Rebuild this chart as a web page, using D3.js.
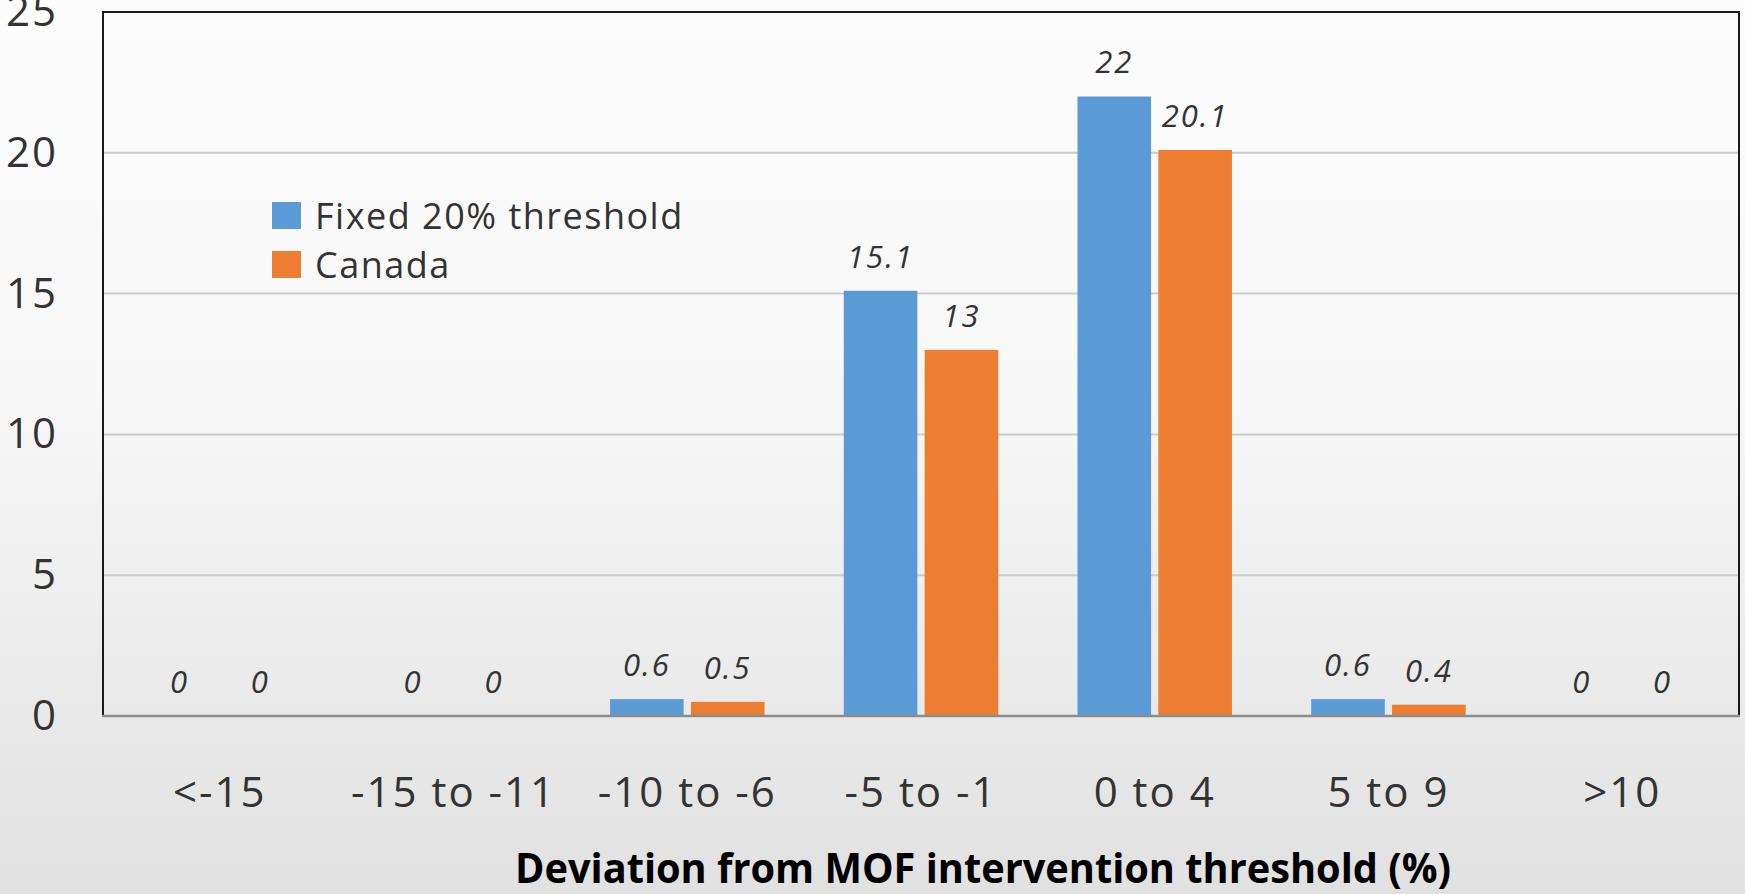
<!DOCTYPE html>
<html>
<head>
<meta charset="utf-8">
<script src="https://cdn.jsdelivr.net/npm/d3@7"></script>
<style>
    html, body { margin: 0; padding: 0; overflow: hidden; }
    svg { display: block; }
</style>
</head>
<body>
<svg id="chart"></svg>
<script>
// Chart data
const categories = ['<-15', '-15 to -11', '-10 to -6', '-5 to -1', '0 to 4', '5 to 9', '>10']
const seriesNames = ['Fixed 20% threshold', 'Canada']
const fixedValues = [0, 0, 0.6, 15.1, 22, 0.6, 0]
const canadaValues = [0, 0, 0.5, 13, 20.1, 0.4, 0]
const yTicks = [0, 5, 10, 15, 20, 25]
const xTitle = 'Deviation from MOF intervention threshold (%)'

const colors = ['#5b9bd5', '#ed7d31']
const W = 1745, H = 894
const plot = { left: 103, right: 1739, top: 12, bottom: 716 }

let svg = d3.select('#chart').attr('width', W).attr('height', H)

// background gradient
let defs = svg.append('defs')
let grad = defs.append('linearGradient')
    .attr('id', 'bg')
    .attr('x1', 0).attr('y1', 0).attr('x2', 0).attr('y2', 1)
grad.append('stop').attr('offset', '0%').attr('stop-color', '#fcfcfc')
grad.append('stop').attr('offset', '45%').attr('stop-color', '#f7f7f7')
grad.append('stop').attr('offset', '100%').attr('stop-color', '#e1e1e1')

svg.append('rect')
    .attr('width', W).attr('height', H)
    .attr('fill', 'url(#bg)')

// scales
let x0 = d3.scaleBand().domain(categories).range([plot.left, plot.right]).paddingInner(0).paddingOuter(0)
let x1 = d3.scaleBand().domain(seriesNames).range([0, x0.bandwidth()]).paddingInner(0.09).paddingOuter(0.49)
let y = d3.scaleLinear().domain([0, 25]).range([plot.bottom, plot.top])

// gridlines
svg.append('g')
    .selectAll('line')
    .data(yTicks.filter(d => d > 0 && d < 25))
    .enter()
    .append('line')
    .attr('x1', plot.left).attr('x2', plot.right)
    .attr('y1', d => y(d)).attr('y2', d => y(d))
    .attr('stroke', '#cbcbcb')
    .attr('stroke-width', 2)

// cut-off title at the very top
svg.append('text')
    .attr('x', 557).attr('y', -6)
    .attr('text-anchor', 'middle')
    .style('font-family', 'Open Sans')
    .style('font-size', '40px')
    .attr('fill', '#333')
    .text('(%)')

// bars
let series = [fixedValues, canadaValues]
let groups = svg.append('g').attr('id', 'bars')
series.forEach((vals, si) => {
    let g = groups.append('g')
    g.selectAll('rect')
        .data(vals.map((v, i) => ({ cat: categories[i], v: v })))
        .enter()
        .append('rect')
        .attr('x', d => x0(d.cat) + x1(seriesNames[si]))
        .attr('width', x1.bandwidth())
        .attr('y', d => y(d.v))
        .attr('height', d => y(0) - y(d.v))
        .attr('fill', colors[si])

    g.selectAll('text')
        .data(vals.map((v, i) => ({ cat: categories[i], v: v })))
        .enter()
        .append('text')
        .attr('x', d => x0(d.cat) + x1(seriesNames[si]) + x1.bandwidth() / 2)
        .attr('y', d => y(d.v) - 23)
        .attr('text-anchor', 'middle')
        .style('font-family', 'Open Sans')
        .style('font-style', 'italic')
        .style('font-size', '31px')
        .style('letter-spacing', '2px')
        .attr('fill', '#333')
        .text(d => d.v)
})

// frame
svg.append('path')
    .attr('d', `M${plot.left},${plot.bottom}V${plot.top}H${plot.right}V${plot.bottom}`)
    .attr('fill', 'none')
    .attr('stroke', '#1a1a1a')
    .attr('stroke-width', 2)

// x axis baseline
svg.append('line')
    .attr('x1', plot.left - 1).attr('x2', plot.right + 1)
    .attr('y1', y(0)).attr('y2', y(0))
    .attr('stroke', '#8c8c8c')
    .attr('stroke-width', 2.5)

// y axis labels
let yAxis = svg.append('g')
    .attr('transform', `translate(${plot.left}, 0)`)
    .call(d3.axisLeft(y).tickValues(yTicks).tickSize(0).tickPadding(45))
yAxis.select('.domain').remove()
yAxis.selectAll('text')
    .style('font-family', 'Open Sans')
    .style('font-size', '42px')
    .style('letter-spacing', '2px')
    .attr('fill', '#333')

// x axis labels
let xAxis = svg.append('g')
    .attr('transform', `translate(0, ${plot.bottom})`)
    .call(d3.axisBottom(x0).tickSize(0).tickPadding(61))
xAxis.select('.domain').remove()
xAxis.selectAll('text')
    .style('font-family', 'Open Sans')
    .style('font-size', '42px')
    .style('letter-spacing', '2px')
    .attr('fill', '#333')

// x axis title
svg.append('text')
    .attr('x', 983).attr('y', 883)
    .attr('text-anchor', 'middle')
    .attr('textLength', 936)
    .attr('lengthAdjust', 'spacingAndGlyphs')
    .style('font-family', 'Open Sans')
    .style('font-weight', 'bold')
    .style('font-size', '41px')
    .attr('fill', '#000')
    .text(xTitle)

// legend
let legend = svg.append('g').attr('transform', 'translate(272, 202)')
seriesNames.forEach((name, i) => {
    legend.append('rect')
        .attr('x', 0).attr('y', i * 49)
        .attr('width', 29).attr('height', 27)
        .attr('fill', colors[i])
    legend.append('text')
        .attr('x', 43).attr('y', i * 49 + 14)
        .attr('dy', '0.36em')
        .style('font-family', 'Open Sans')
        .style('font-size', '36px')
        .style('letter-spacing', '1.5px')
        .attr('fill', '#333')
        .text(name)
})
</script>
</body>
</html>
